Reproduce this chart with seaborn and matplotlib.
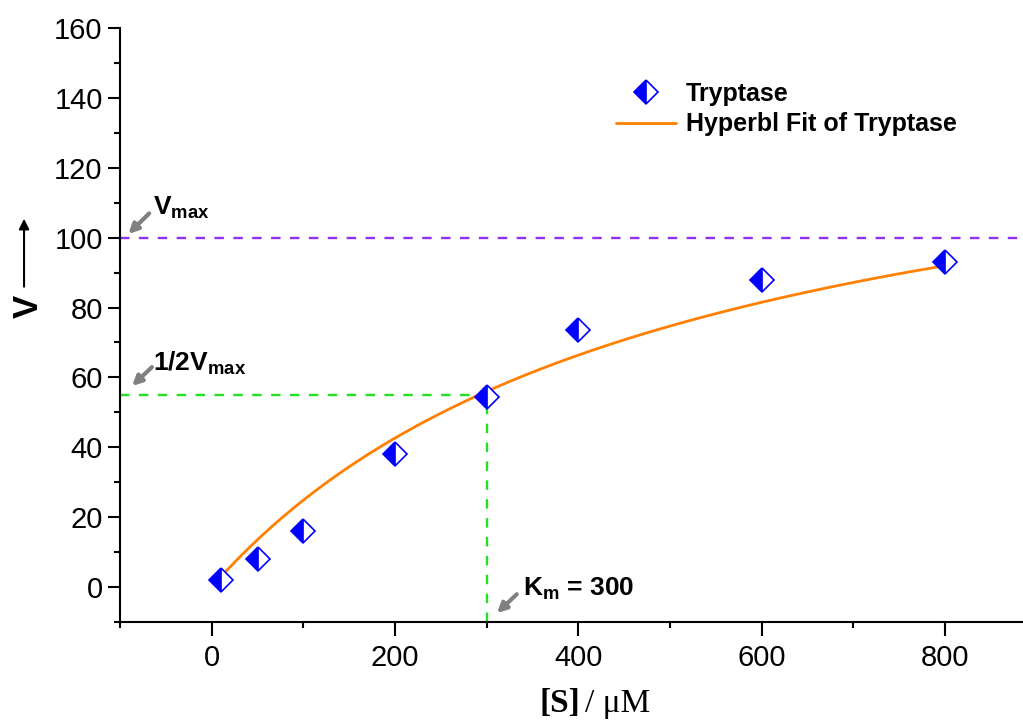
import numpy as np
import pandas as pd
import matplotlib
matplotlib.use("Agg")
import matplotlib.pyplot as plt
import seaborn as sns
from matplotlib.ticker import MultipleLocator

# данные
s_conc = [10, 50, 100, 200, 300, 400, 600, 800]
velocity = [2, 8, 16, 38, 54.5, 73.5, 88, 93]

# параметры гиперболической аппроксимации
fit_vmax = 149.7
fit_km = 502.0
fit_s_start, fit_s_end = 10, 800

vmax_line = 100
half_vmax = 55
km_value = 300

sns.set_style("ticks")
plt.rcParams['font.family'] = ['Liberation Sans', 'DejaVu Sans']
plt.rcParams['mathtext.fontset'] = 'custom'
plt.rcParams['mathtext.bf'] = 'Liberation Sans:bold'
plt.rcParams['mathtext.rm'] = 'Liberation Sans'
plt.rcParams['text.color'] = 'black'
plt.rcParams['xtick.color'] = 'black'
plt.rcParams['ytick.color'] = 'black'

fig = plt.figure(figsize=(10.23, 7.2), dpi=100)
ax = fig.add_axes([0.1173, 0.1361, 0.8827, 0.825])

df = pd.DataFrame({'S': s_conc, 'V': velocity})
s_fit = np.linspace(fit_s_start, fit_s_end, 200)
fit_df = pd.DataFrame({'S': s_fit, 'V': fit_vmax * s_fit / (fit_km + s_fit)})

# линии Vmax и Km
ax.axhline(vmax_line, color='#9030F0', linestyle=(0, (4, 4)), lw=1.7, zorder=1)
ax.plot([-100, km_value], [half_vmax, half_vmax], color='#22E022', linestyle=(0, (4, 4)), lw=1.7, zorder=1)
ax.plot([km_value, km_value], [-10, half_vmax], color='#22E022', linestyle=(0, (4, 4)), lw=1.7, zorder=1)

sns.lineplot(data=fit_df, x='S', y='V', ax=ax, color='#FF8000', lw=2,
             label='Hyperbl Fit of Tryptase', zorder=2)
sns.lineplot(data=df, x='S', y='V', ax=ax, marker='D', linestyle='', color='blue',
             fillstyle='left', markerfacecoloralt='white', markeredgecolor='blue',
             markersize=12, markeredgewidth=1.2, label='Tryptase', zorder=3)

ax.set_xlim(-100, 885)
ax.set_ylim(-10, 160)
ax.xaxis.set_major_locator(MultipleLocator(200))
ax.xaxis.set_minor_locator(MultipleLocator(100))
ax.yaxis.set_major_locator(MultipleLocator(20))
ax.yaxis.set_minor_locator(MultipleLocator(10))
ax.set_xticks([0, 200, 400, 600, 800])
ax.tick_params(which='major', length=8.5, width=1.5, labelsize=21, direction='out', pad=4)
ax.tick_params(which='minor', length=4.5, width=1.5, direction='out')
ax.tick_params(axis='x', which='major', length=10, pad=6)
for side in ['top', 'right']:
    ax.spines[side].set_visible(False)
for side in ['left', 'bottom']:
    ax.spines[side].set_linewidth(1.5)
    ax.spines[side].set_color('black')

ax.set_xlabel('')
ax.set_ylabel('')

# подписи осей
fig.text(0.567, 0.023, '[S]', family='Liberation Serif', fontweight='bold', fontsize=24,
         ha='right', va='center')
fig.text(0.572, 0.023, '/ \u03bcM', family='Liberation Serif', fontsize=24,
         ha='left', va='center')
fig.text(0.028, 0.575, 'V', fontweight='bold', fontsize=25, rotation=90, ha='center', va='center')
ax.annotate('', xy=(0.0235, 0.70), xytext=(0.0235, 0.598), xycoords='figure fraction',
            arrowprops=dict(arrowstyle='-|>', color='black', lw=1.5, mutation_scale=15))

# аннотации
arrow = dict(arrowstyle='-|>', color='gray', lw=3, mutation_scale=14)
ax.annotate('', xy=(-93, 100.5), xytext=(-66, 107.5), arrowprops=arrow)
ax.text(-64, 108.5, r'$\mathbf{V}_{\mathbf{max}}$', fontsize=19, va='center')
ax.annotate('', xy=(-89, 57), xytext=(-63, 63.5), arrowprops=arrow)
ax.text(-64, 64, r'$\mathbf{1/2V}_{\mathbf{max}}$', fontsize=19, va='center')
ax.annotate('', xy=(309, -8), xytext=(335, -1.5), arrowprops=arrow)
ax.text(340, -0.5, r'$\mathbf{K}_{\mathbf{m}}$' + ' = 300', fontsize=19, fontweight='bold',
        va='center')

h, l = ax.get_legend_handles_labels()
ax.legend(h[::-1], l[::-1], loc='upper left', bbox_to_anchor=(0.535, 0.93), frameon=False,
          prop={'weight': 'bold', 'size': 18}, handlelength=2.4, handletextpad=0.4,
          labelspacing=0.25, borderpad=0)

fig.savefig('out.png', dpi=100)
